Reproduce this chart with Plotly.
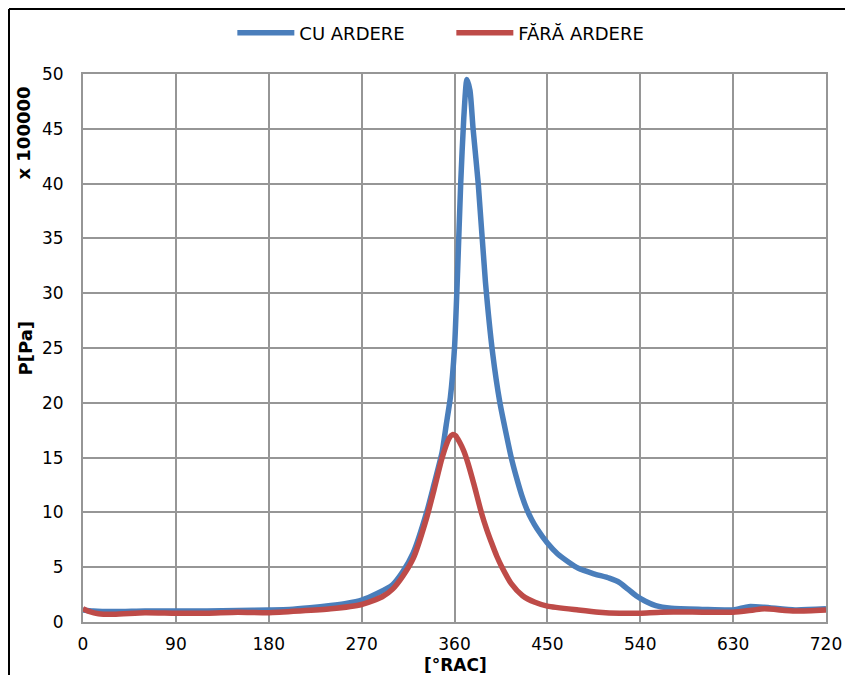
import plotly.graph_objects as go

# Crank angle [°RAC] and pressure [x 100000 Pa]
angle_cu = [0, 10, 30, 60, 90, 120, 150, 180, 200, 220, 240, 255, 270, 285, 300, 310, 320, 333, 340,
            348, 352, 356, 360, 363, 366, 369, 372, 375, 378, 383, 390, 397, 404, 410, 415, 420, 425,
            430, 435, 440, 450, 460, 470, 480, 495, 510, 520, 528, 536, 545, 555, 570, 600, 630, 645,
            660, 690, 720]
p_cu = [1.1, 1.0, 0.95, 1.0, 1.0, 1.0, 1.05, 1.1, 1.15, 1.3, 1.5, 1.7, 2.0, 2.6, 3.4, 4.6, 6.3, 10.0, 12.5,
        15.5, 18.0, 20.5, 25.0, 32.0, 40.0, 46.0, 49.5, 48.5, 45.0, 40.0, 31.0, 24.5, 20.0, 17.2, 15.0, 13.2, 11.6,
        10.3, 9.3, 8.5, 7.2, 6.2, 5.5, 4.9, 4.4, 4.0, 3.6, 3.0, 2.4, 1.9, 1.5, 1.25, 1.15, 1.1, 1.4,
        1.35, 1.1, 1.2]

angle_fara = [0, 5, 15, 30, 60, 90, 120, 150, 180, 210, 240, 270, 290, 300, 310, 320, 333, 340, 348, 355,
              358, 361, 365, 369, 373, 379, 386, 391, 396, 401, 406, 415, 426, 438, 450, 480, 500, 520,
              540, 560, 600, 630, 650, 660, 690, 720]
p_fara = [1.2, 1.0, 0.75, 0.7, 0.85, 0.8, 0.8, 0.9, 0.85, 1.0, 1.2, 1.6, 2.3, 3.0, 4.2, 5.8, 9.5, 12.0, 15.0, 16.8,
          17.1, 17.0, 16.4, 15.6, 14.5, 12.5, 10.0, 8.5, 7.2, 6.0, 5.0, 3.5, 2.4, 1.8, 1.45, 1.1, 0.9, 0.8,
          0.8, 0.9, 0.9, 0.9, 1.1, 1.2, 1.0, 1.1]

x_ticks = [0, 90, 180, 270, 360, 450, 540, 630, 720]
y_ticks = [0, 5, 10, 15, 20, 25, 30, 35, 40, 45, 50]

FONT = "DejaVu Sans"
GRID = "#969696"

fig = go.Figure()
fig.add_trace(go.Scatter(x=angle_cu, y=p_cu, mode="lines", name="CU ARDERE",
                         line=dict(color="#4A7EBB", width=5.5, shape="spline", smoothing=0.6)))
fig.add_trace(go.Scatter(x=angle_fara, y=p_fara, mode="lines", name="FĂRĂ ARDERE",
                         line=dict(color="#BE4B48", width=5.5, shape="spline", smoothing=0.6)))

fig.update_layout(
    width=853, height=675,
    margin=dict(l=75, r=35, t=66, b=61, autoexpand=False),
    paper_bgcolor="white", plot_bgcolor="white",
    font=dict(family=FONT, size=17, color="black"),
    showlegend=True,
    legend=dict(orientation="h", x=0.201, xanchor="left", y=1.0748, yanchor="middle",
                font=dict(family=FONT, size=18), itemwidth=57, entrywidth=147,
                bgcolor="rgba(0,0,0,0)"),
    xaxis=dict(range=[0, 720], tickvals=x_ticks, ticktext=[str(v) for v in x_ticks],
               showgrid=True, gridcolor=GRID, gridwidth=2,
               showline=True, linecolor=GRID, linewidth=2, mirror=True,
               ticks="", zeroline=False, ticklabelstandoff=6),
    yaxis=dict(range=[0, 50], tickvals=y_ticks, ticktext=[str(v) for v in y_ticks],
               showgrid=True, gridcolor=GRID, gridwidth=2,
               showline=True, linecolor=GRID, linewidth=2, mirror=True,
               ticks="", zeroline=False, ticklabelstandoff=14),
    annotations=[
        dict(text="<b>x 100000</b>", xref="paper", yref="paper",
             x=-0.0814, y=0.8923, textangle=-90, showarrow=False,
             xanchor="center", yanchor="middle",
             font=dict(family=FONT, size=18, color="black")),
        dict(text="<b>P[Pa]</b>", xref="paper", yref="paper",
             x=-0.0774, y=0.5, textangle=-90, showarrow=False,
             xanchor="center", yanchor="middle",
             font=dict(family=FONT, size=18, color="black")),
        dict(text="<b>[°RAC]</b>", xref="paper", yref="paper",
             x=0.5007, y=-0.079, showarrow=False,
             xanchor="center", yanchor="middle",
             font=dict(family=FONT, size=17, color="black")),
    ],
    shapes=[
        dict(type="line", xref="paper", yref="paper", x0=-0.0996, x1=1.1, y0=1.1186, y1=1.1186,
             line=dict(color="black", width=2)),
        dict(type="line", xref="paper", yref="paper", x0=-0.0996, x1=-0.0996, y0=1.1186, y1=-0.2,
             line=dict(color="black", width=2)),
    ],
)

fig.write_html("out.html")
